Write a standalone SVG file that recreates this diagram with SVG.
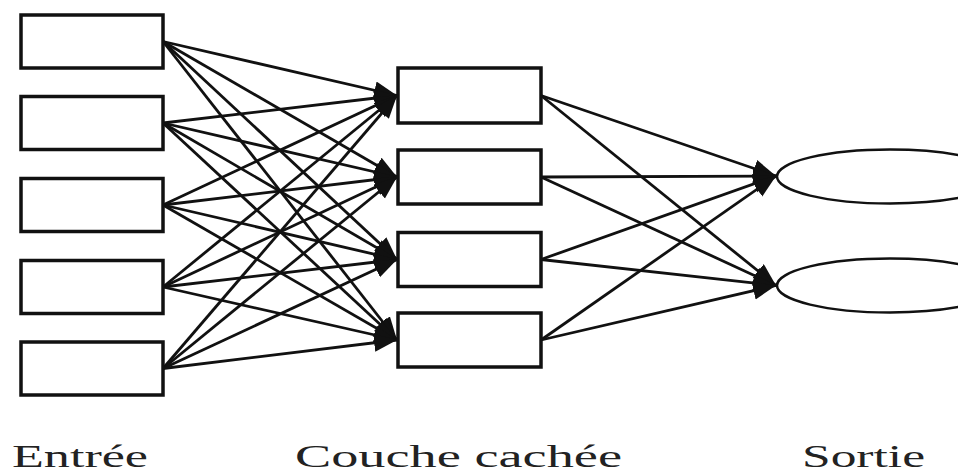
<svg xmlns="http://www.w3.org/2000/svg" width="958" height="475" viewBox="0 0 958 475">
  <style>
    .node rect, .node ellipse { fill: #fff; stroke: #111; }
    .node rect { stroke-width: 3.5; }
    .node ellipse { stroke-width: 2.5; }
    .edges line { stroke: #111; stroke-width: 2.8; marker-end: url(#head); }
    .label { font-family: "Liberation Serif", "Times New Roman", serif; font-size: 31px; fill: #222; }
  </style>
  <defs>
    <marker id="head" markerUnits="userSpaceOnUse" markerWidth="26" markerHeight="20" refX="23" refY="9" orient="auto">
      <path d="M0,0 L23,9 L0,18 Z" fill="#111"/>
    </marker>
  </defs>
  <rect width="958" height="475" fill="#fff"/>

  <!-- connectors: input layer to hidden layer, hidden layer to output -->
  <g id="connectors" class="edges">
    <line x1="163" y1="41.5" x2="397" y2="95.5"/>
    <line x1="163" y1="41.5" x2="397" y2="177"/>
    <line x1="163" y1="41.5" x2="397" y2="259.5"/>
    <line x1="163" y1="41.5" x2="397" y2="340"/>
    <line x1="163" y1="123" x2="397" y2="95.5"/>
    <line x1="163" y1="123" x2="397" y2="177"/>
    <line x1="163" y1="123" x2="397" y2="259.5"/>
    <line x1="163" y1="123" x2="397" y2="340"/>
    <line x1="163" y1="205" x2="397" y2="95.5"/>
    <line x1="163" y1="205" x2="397" y2="177"/>
    <line x1="163" y1="205" x2="397" y2="259.5"/>
    <line x1="163" y1="205" x2="397" y2="340"/>
    <line x1="163" y1="287" x2="397" y2="95.5"/>
    <line x1="163" y1="287" x2="397" y2="177"/>
    <line x1="163" y1="287" x2="397" y2="259.5"/>
    <line x1="163" y1="287" x2="397" y2="340"/>
    <line x1="163" y1="368.5" x2="397" y2="95.5"/>
    <line x1="163" y1="368.5" x2="397" y2="177"/>
    <line x1="163" y1="368.5" x2="397" y2="259.5"/>
    <line x1="163" y1="368.5" x2="397" y2="340"/>
    <line x1="541" y1="95.5" x2="776" y2="176"/>
    <line x1="541" y1="95.5" x2="776" y2="285.5"/>
    <line x1="541" y1="177" x2="776" y2="176"/>
    <line x1="541" y1="177" x2="776" y2="285.5"/>
    <line x1="541" y1="259.5" x2="776" y2="176"/>
    <line x1="541" y1="259.5" x2="776" y2="285.5"/>
    <line x1="541" y1="340" x2="776" y2="176"/>
    <line x1="541" y1="340" x2="776" y2="285.5"/>
  </g>

  <!-- input layer -->
  <g id="in1" class="node"><rect x="21" y="15" width="142" height="53"/></g>
  <g id="in2" class="node"><rect x="21" y="96.5" width="142" height="53"/></g>
  <g id="in3" class="node"><rect x="21" y="178.5" width="142" height="53"/></g>
  <g id="in4" class="node"><rect x="21" y="260.5" width="142" height="53"/></g>
  <g id="in5" class="node"><rect x="21" y="342" width="142" height="53"/></g>

  <!-- hidden layer -->
  <g id="h1" class="node"><rect x="398" y="68" width="143" height="55"/></g>
  <g id="h2" class="node"><rect x="398" y="150" width="143" height="54"/></g>
  <g id="h3" class="node"><rect x="398" y="232.5" width="143" height="54"/></g>
  <g id="h4" class="node"><rect x="398" y="313" width="143" height="54"/></g>

  <!-- output layer -->
  <g id="out1" class="node"><ellipse cx="890" cy="176.5" rx="113" ry="27"/></g>
  <g id="out2" class="node"><ellipse cx="890" cy="285.5" rx="113" ry="27"/></g>

  <!-- layer captions -->
  <g id="captions">
    <text class="label" x="12" y="467" textLength="136" lengthAdjust="spacingAndGlyphs">Entrée</text>
    <text class="label" x="295" y="467" textLength="327" lengthAdjust="spacingAndGlyphs">Couche cachée</text>
    <text class="label" x="802" y="467" textLength="123" lengthAdjust="spacingAndGlyphs">Sortie</text>
  </g>
</svg>
